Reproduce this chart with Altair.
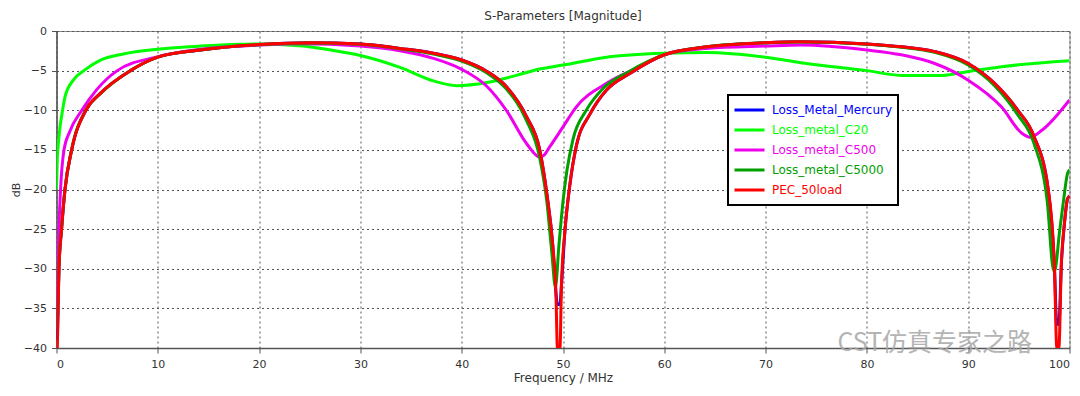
import altair as alt
import pandas as pd

TITLE = "S-Parameters [Magnitude]"
X_TITLE = "Frequency / MHz"
Y_TITLE = "dB"
WATERMARK = "CST仿真专家之路"

series_names = ["Loss_Metal_Mercury", "Loss_metal_C20", "Loss_metal_C500",
                "Loss_metal_C5000", "PEC_50load"]
series_colors = ["#0000ff", "#00ff00", "#ee00ee", "#00a000", "#ff0000"]

x_ticks = [0, 10, 20, 30, 40, 50, 60, 70, 80, 90, 100]
y_ticks = [0, -5, -10, -15, -20, -25, -30, -35, -40]

# PEC_50load
pec_f = [0.08, 0.24, 0.5, 0.84, 1.5, 2.9, 4.3, 7.3, 10, 14.2, 20, 25, 30, 33.9,
         37.2, 40, 42.5, 44.4, 46.4, 47.7, 48.4, 49.0, 49.3, 49.45, 49.7, 49.85,
         50.2, 50.7, 51.3, 52.7, 54.3, 56.6, 60, 64.2, 70, 73.4, 80, 83.4, 86.7,
         90, 92.6, 94.9, 96.5, 97.9, 98.5, 98.75, 98.95, 99.2, 99.5, 99.8, 100]
pec_db = [-40, -30, -25, -20, -15, -10, -7.9, -5, -3.3, -2.4, -1.7, -1.47, -1.64,
          -2.2, -2.8, -3.66, -5.1, -7.0, -10.8, -15, -20.5, -27.2, -33, -40, -40,
          -32, -25.1, -19.2, -14.6, -10.4, -7.45, -5.35, -3.0, -2.0, -1.47, -1.35,
          -1.64, -2.0, -2.6, -4.1, -6.6, -10, -13.3, -20, -29.3, -40, -40, -29.3,
          -24.3, -21.2, -20.8]

# Loss_Metal_Mercury (almost identical to PEC, shallower notches)
merc_f = pec_f
merc_db = [-39, -30, -25, -20, -15, -10, -7.9, -5, -3.3, -2.4, -1.7, -1.47, -1.64,
           -2.2, -2.8, -3.66, -5.1, -7.0, -10.8, -15, -20.5, -27.2, -33, -34.5, -34.5,
           -32, -25.1, -19.2, -14.6, -10.4, -7.45, -5.35, -3.0, -2.0, -1.47, -1.35,
           -1.64, -2.0, -2.6, -4.1, -6.6, -10, -13.3, -20, -29.3, -37, -37, -29.3,
           -24.3, -21.2, -20.8]

# Loss_metal_C5000
c5000_f = [0.08, 0.24, 0.5, 0.84, 1.5, 2.9, 4.3, 7.3, 10, 14.2, 20, 25, 30, 33.9,
           37.2, 40, 42.5, 44.4, 46.4, 47.7, 48.4, 48.9, 49.25, 49.6, 50.0, 50.4,
           51.0, 52.3, 54.0, 56.4, 60, 64.2, 70, 73.4, 80, 83.4, 86.7, 90, 92.6,
           94.9, 96.5, 97.8, 98.45, 98.6, 99.0, 99.4, 99.8, 100]
c5000_db = [-37.5, -29.8, -24.8, -19.9, -14.9, -9.95, -7.95, -5.0, -3.3, -2.4,
            -1.72, -1.5, -1.68, -2.25, -2.9, -3.8, -5.3, -7.3, -11.3, -16, -21.5,
            -28, -32.3, -27, -21.5, -17.5, -13.6, -10, -7.2, -5.2, -3.0, -2.0, -1.5,
            -1.4, -1.68, -2.05, -2.7, -4.3, -6.9, -10.6, -14.2, -21.5, -30.3, -30,
            -25.5, -21.5, -18, -17.5]

# Loss_metal_C20
c20_f = [0, 0.08, 0.13, 0.35, 0.6, 0.84, 1.66, 2.8, 4.3, 6.6, 10, 14.2, 20, 24,
         27.5, 30, 33.9, 37.2, 39.5, 42.5, 45.4, 47.7, 50, 54.3, 60, 64.2, 70, 73.5,
         80, 83.4, 87.4, 90, 93.3, 100]
c20_db = [-20, -16, -15, -12.1, -10, -8.3, -6.2, -4.9, -3.7, -2.9, -2.3, -1.9,
          -1.64, -1.85, -2.5, -3.1, -4.6, -6.3, -6.9, -6.5, -5.6, -4.8, -4.3, -3.3,
          -2.8, -2.7, -3.3, -4.0, -5.0, -5.6, -5.6, -5.1, -4.5, -3.75]

# Loss_metal_C500
c500_f = [0.0, 0.08, 0.14, 0.24, 0.4, 0.74, 1.3, 2.5, 3.97, 6.0, 10, 14.2, 20, 24,
          30, 33.9, 37.2, 40, 42.5, 44.4, 46.4, 47.7, 48.1, 48.7, 50, 51.3, 54.3,
          57.6, 60, 64.2, 70, 73.5, 80, 83.4, 86.7, 90, 93.3, 95.3, 96.1, 97.3, 100]
c500_db = [-37.5, -31, -30, -25, -20, -15, -12.7, -10, -7.4, -5, -3.24, -2.3,
           -1.77, -1.6, -1.9, -2.5, -3.45, -4.84, -7.0, -10, -14.2, -15.9, -15.7,
           -14.6, -12.1, -9.6, -6.6, -4.5, -3.0, -2.2, -1.9, -1.77, -2.4, -3.0, -4.1,
           -6.2, -9.6, -12.9, -13.4, -12.5, -8.7]

series_data = {
    "Loss_Metal_Mercury": (merc_f, merc_db),
    "Loss_metal_C20": (c20_f, c20_db),
    "Loss_metal_C500": (c500_f, c500_db),
    "Loss_metal_C5000": (c5000_f, c5000_db),
    "PEC_50load": (pec_f, pec_db),
}

rows = []
for name, (fs, dbs) in series_data.items():
    for i, (f, d) in enumerate(zip(fs, dbs)):
        rows.append({"series": name, "f": f, "db": d, "idx": i})
df = pd.DataFrame(rows)

FONT = "DejaVu Sans"

color_enc = alt.Color(
    "series:N",
    scale=alt.Scale(domain=series_names, range=series_colors),
    legend=alt.Legend(
        title=None, orient="none", legendX=671.5, legendY=64,
        symbolType="stroke", symbolSize=900, symbolStrokeWidth=3,
        clipHeight=20, rowPadding=0, labelOffset=6, padding=5,
        labelFont=FONT, labelFontSize=12, labelLimit=300,
        labelColor=alt.ExprRef("scale('color', datum.value)"),
        fillColor="white", strokeColor="black",
    ),
)

x_enc = alt.X("f:Q", scale=alt.Scale(domain=[0, 100], nice=False),
              axis=alt.Axis(values=x_ticks, title=X_TITLE, titlePadding=3,
                            labelPadding=5))
y_enc = alt.Y("db:Q", scale=alt.Scale(domain=[-40, 0], nice=False),
              axis=alt.Axis(values=y_ticks, title=Y_TITLE, titlePadding=2,
                            titleFontSize=11))

layers = []
for name in series_names:
    layers.append(
        alt.Chart(df)
        .transform_filter(alt.datum.series == name)
        .mark_line(strokeWidth=3, clip=True, interpolate="monotone")
        .encode(x=x_enc, y=y_enc, color=color_enc, order="idx:Q")
    )

wm = alt.Chart(pd.DataFrame({"t": [WATERMARK]})).mark_text(
    font="Noto Sans CJK SC", fontSize=25, color="#a8a8a8", opacity=0.85,
    align="left", baseline="middle"
).encode(x=alt.value(781), y=alt.value(312), text="t:N")

chart = alt.layer(*layers, wm).properties(
    width=1013, height=317,
    autosize=alt.AutoSizeParams(type="none"),
    padding={"left": 48.5, "top": 23, "right": 2.5, "bottom": 40},
    title=alt.TitleParams(TITLE, font=FONT, fontSize=12, fontWeight="normal",
                          color="#333333", anchor="middle", frame="group",
                          offset=2),
).configure_view(
    stroke="#888888", strokeWidth=1
).configure_legend(
    strokeWidth=2
).configure_axis(
    labelFont=FONT, labelFontSize=11, labelColor="#333333",
    titleFont=FONT, titleFontSize=12, titleFontWeight="normal", titleColor="#333333",
    domainColor="#555555", domainWidth=1.5,
    tickColor="#555555", tickSize=5, labelPadding=5,
    gridColor="#555555", gridDash=[2, 3], gridWidth=1, gridOpacity=1,
)

chart.save("out.html", embed_options={"renderer": "svg", "actions": False})
